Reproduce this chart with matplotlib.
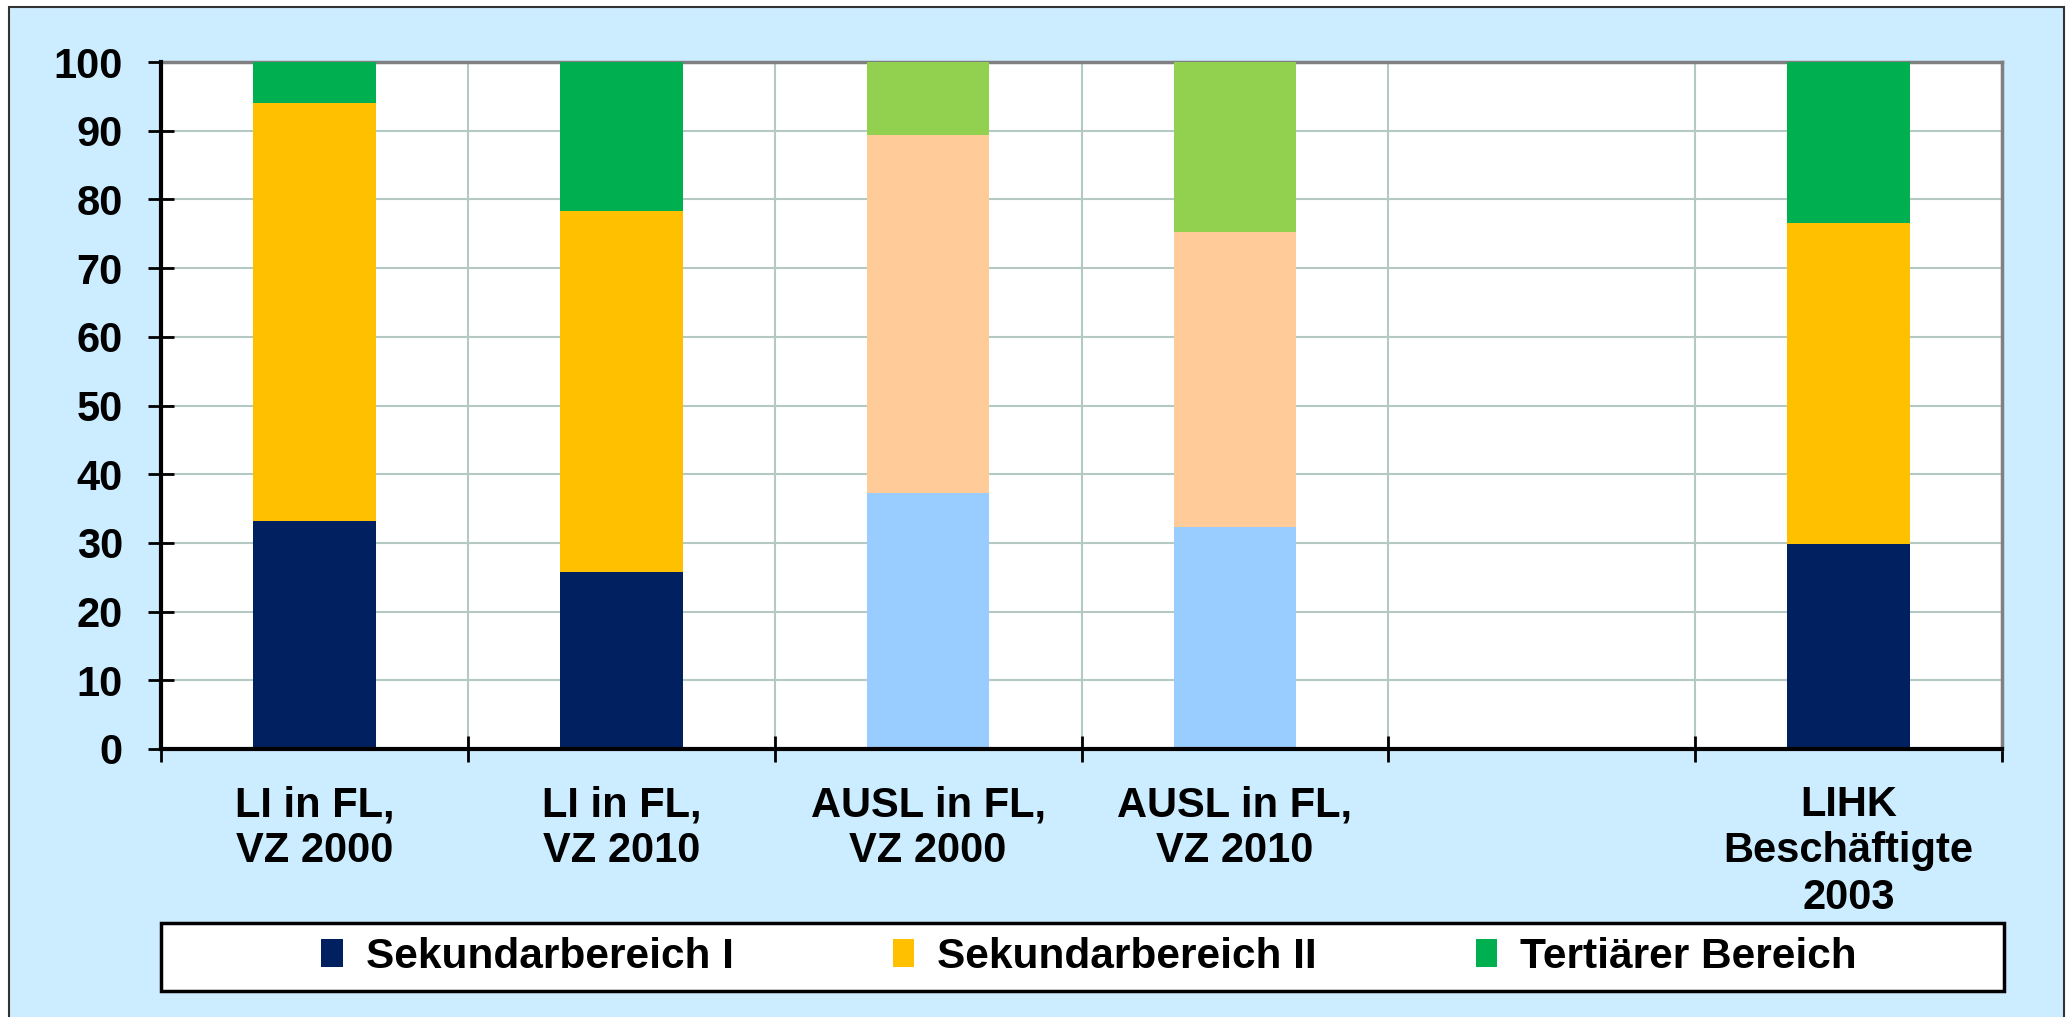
import matplotlib.pyplot as plt
from matplotlib.patches import Rectangle, Patch

plt.rcParams['font.family'] = ['Liberation Sans', 'DejaVu Sans']
plt.rcParams['font.weight'] = 'bold'

categories = ["LI in FL,\nVZ 2000", "LI in FL,\nVZ 2010", "AUSL in FL,\nVZ 2000",
              "AUSL in FL,\nVZ 2010", "", "LIHK\nBeschäftigte\n2003"]
series_names = ["Sekundarbereich I", "Sekundarbereich II", "Tertiärer Bereich"]
sek1 = [33.2, 25.8, 37.3, 32.3, 0, 29.9]
sek2 = [60.8, 52.5, 52.1, 43.0, 0, 46.7]
tert = [6.0, 21.7, 10.6, 24.7, 0, 23.4]

# LI bars in strong colours, AUSL bars in light colours
sek1_colors = ["#002060", "#002060", "#99CCFF", "#99CCFF", "#002060", "#002060"]
sek2_colors = ["#FFC000", "#FFC000", "#FFCC99", "#FFCC99", "#FFC000", "#FFC000"]
tert_colors = ["#00B050", "#00B050", "#92D050", "#92D050", "#00B050", "#00B050"]

W, H = 2069, 1017
fig = plt.figure(figsize=(W / 100, H / 100), dpi=100, facecolor="white")

# outer blue frame
fig.patches.append(Rectangle((9 / W, -0.01), (2064 - 9) / W, 1 - 7 / H + 0.01,
                             transform=fig.transFigure, facecolor="#CCECFF",
                             edgecolor="#333333", linewidth=1.5, zorder=-2))
# legend box
fig.patches.append(Rectangle((161 / W, 1 - 991 / H), (2004 - 161) / W, (991 - 923) / H,
                             transform=fig.transFigure, facecolor="white",
                             edgecolor="black", linewidth=2.5, zorder=-1))

ax = fig.add_axes([161 / W, 1 - 749 / H, (2002 - 161) / W, (749 - 62) / H])
ax.set_facecolor("white")

x = list(range(len(categories)))
bottom2 = [a for a in sek1]
bottom3 = [a + b for a, b in zip(sek1, sek2)]
ax.bar(x, sek1, width=0.4, color=sek1_colors, zorder=3)
ax.bar(x, sek2, width=0.4, bottom=bottom2, color=sek2_colors, zorder=3)
ax.bar(x, tert, width=0.4, bottom=bottom3, color=tert_colors, zorder=3)

ax.set_xlim(-0.5, len(categories) - 0.5)
ax.set_ylim(0, 100)
ax.set_yticks(range(0, 101, 10))

# ticks at category boundaries, labels at centers
ax.set_xticks([i - 0.5 for i in range(len(categories) + 1)])
ax.set_xticklabels([])
ax.set_xticks(x, minor=True)
ax.set_xticklabels(categories, minor=True, fontsize=30, fontweight="bold")
ax.tick_params(axis="x", which="minor", length=0, pad=26)
ax.tick_params(axis="x", which="major", direction="inout", length=19, width=2)
ax.tick_params(axis="y", direction="inout", length=19, width=2, pad=18, labelsize=30)
for lab in ax.get_yticklabels():
    lab.set_fontweight("bold")

ax.grid(True, which="major", color="#B4C8C4", linewidth=1.5, zorder=0)
ax.set_axisbelow(True)

for s in ["left", "bottom"]:
    ax.spines[s].set_linewidth(3)
    ax.spines[s].set_color("black")
    ax.spines[s].set_zorder(4)
for s in ["top", "right"]:
    ax.spines[s].set_linewidth(2.5)
    ax.spines[s].set_color("#808080")

handles = [Patch(facecolor=c) for c in ["#002060", "#FFC000", "#00B050"]]
fig.legend(handles, series_names, loc="center", bbox_to_anchor=(1089 / W, 1 - 957 / H),
           ncol=3, frameon=False, prop={"weight": "bold", "size": 30.5},
           handlelength=0.5, handleheight=0.65, handletextpad=0.55, columnspacing=3.75)

fig.savefig("out.png", dpi=100, facecolor=fig.get_facecolor())
